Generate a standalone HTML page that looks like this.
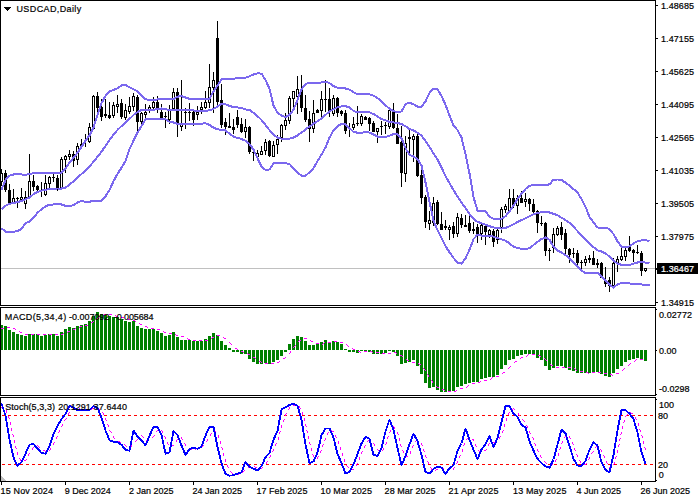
<!DOCTYPE html><html><head><meta charset="utf-8"><title>USDCAD Daily</title><style>
html,body{margin:0;padding:0;background:#fff;}
#c{position:relative;width:700px;height:500px;overflow:hidden;background:#fff;}
svg{position:absolute;left:0;top:0;}
text{font-family:"Liberation Sans",sans-serif;font-size:9px;fill:#000;stroke:#000;stroke-width:0.2px;}
</style></head><body><div id="c">
<svg width="700" height="500" viewBox="0 0 700 500">
<rect x="0" y="0" width="700" height="500" fill="#fff"/>
<g shape-rendering="crispEdges">
<rect x="1" y="268" width="654" height="1" fill="#c0c0c0"/>
</g>
<g shape-rendering="crispEdges" fill="#000">
<rect x="1" y="169" width="1" height="17"/>
<rect x="0" y="173" width="3" height="9"/>
<rect x="1" y="174" width="1" height="7" fill="#fff"/>
<rect x="5" y="170" width="1" height="22"/>
<rect x="4" y="173" width="3" height="17"/>
<rect x="9" y="184" width="1" height="19"/>
<rect x="8" y="190" width="3" height="13"/>
<rect x="13" y="189" width="1" height="14"/>
<rect x="12" y="198" width="3" height="5"/>
<rect x="13" y="199" width="1" height="3" fill="#fff"/>
<rect x="17" y="197" width="1" height="11"/>
<rect x="16" y="198" width="3" height="1"/>
<rect x="21" y="188" width="1" height="12"/>
<rect x="20" y="197" width="3" height="3"/>
<rect x="21" y="198" width="1" height="1" fill="#fff"/>
<rect x="25" y="191" width="1" height="18"/>
<rect x="24" y="197" width="3" height="7"/>
<rect x="25" y="198" width="1" height="5" fill="#fff"/>
<rect x="29" y="154" width="1" height="43"/>
<rect x="28" y="181" width="3" height="16"/>
<rect x="29" y="182" width="1" height="14" fill="#fff"/>
<rect x="33" y="175" width="1" height="16"/>
<rect x="32" y="181" width="3" height="6"/>
<rect x="37" y="185" width="1" height="6"/>
<rect x="36" y="186" width="3" height="4"/>
<rect x="41" y="182" width="1" height="15"/>
<rect x="45" y="175" width="1" height="21"/>
<rect x="44" y="183" width="3" height="12"/>
<rect x="45" y="184" width="1" height="10" fill="#fff"/>
<rect x="49" y="176" width="1" height="13"/>
<rect x="48" y="177" width="3" height="7"/>
<rect x="49" y="178" width="1" height="5" fill="#fff"/>
<rect x="53" y="174" width="1" height="8"/>
<rect x="52" y="177" width="3" height="1"/>
<rect x="57" y="175" width="1" height="16"/>
<rect x="56" y="178" width="3" height="10"/>
<rect x="61" y="157" width="1" height="31"/>
<rect x="60" y="159" width="3" height="29"/>
<rect x="61" y="160" width="1" height="27" fill="#fff"/>
<rect x="65" y="155" width="1" height="18"/>
<rect x="64" y="156" width="3" height="4"/>
<rect x="65" y="157" width="1" height="2" fill="#fff"/>
<rect x="69" y="150" width="1" height="10"/>
<rect x="68" y="154" width="3" height="3"/>
<rect x="69" y="155" width="1" height="1" fill="#fff"/>
<rect x="73" y="151" width="1" height="16"/>
<rect x="72" y="154" width="3" height="7"/>
<rect x="77" y="143" width="1" height="22"/>
<rect x="76" y="146" width="3" height="14"/>
<rect x="77" y="147" width="1" height="12" fill="#fff"/>
<rect x="81" y="139" width="1" height="10"/>
<rect x="80" y="144" width="3" height="3"/>
<rect x="81" y="145" width="1" height="1" fill="#fff"/>
<rect x="85" y="134" width="1" height="13"/>
<rect x="84" y="140" width="3" height="1"/>
<rect x="89" y="123" width="1" height="20"/>
<rect x="88" y="127" width="3" height="15"/>
<rect x="89" y="128" width="1" height="13" fill="#fff"/>
<rect x="93" y="95" width="1" height="35"/>
<rect x="92" y="96" width="3" height="33"/>
<rect x="93" y="97" width="1" height="31" fill="#fff"/>
<rect x="97" y="92" width="1" height="26"/>
<rect x="96" y="96" width="3" height="12"/>
<rect x="101" y="99" width="1" height="22"/>
<rect x="100" y="107" width="3" height="10"/>
<rect x="105" y="99" width="1" height="19"/>
<rect x="104" y="114" width="3" height="2"/>
<rect x="109" y="102" width="1" height="17"/>
<rect x="108" y="115" width="3" height="3"/>
<rect x="113" y="102" width="1" height="16"/>
<rect x="112" y="105" width="3" height="11"/>
<rect x="113" y="106" width="1" height="9" fill="#fff"/>
<rect x="117" y="95" width="1" height="18"/>
<rect x="116" y="104" width="3" height="3"/>
<rect x="117" y="105" width="1" height="1" fill="#fff"/>
<rect x="121" y="99" width="1" height="20"/>
<rect x="120" y="103" width="3" height="14"/>
<rect x="125" y="104" width="1" height="16"/>
<rect x="124" y="110" width="3" height="8"/>
<rect x="125" y="111" width="1" height="6" fill="#fff"/>
<rect x="129" y="97" width="1" height="17"/>
<rect x="128" y="106" width="3" height="6"/>
<rect x="129" y="107" width="1" height="4" fill="#fff"/>
<rect x="133" y="93" width="1" height="18"/>
<rect x="132" y="96" width="3" height="11"/>
<rect x="133" y="97" width="1" height="9" fill="#fff"/>
<rect x="137" y="95" width="1" height="36"/>
<rect x="136" y="97" width="3" height="25"/>
<rect x="141" y="112" width="1" height="16"/>
<rect x="140" y="113" width="3" height="9"/>
<rect x="141" y="114" width="1" height="7" fill="#fff"/>
<rect x="145" y="104" width="1" height="15"/>
<rect x="144" y="112" width="3" height="3"/>
<rect x="145" y="113" width="1" height="1" fill="#fff"/>
<rect x="149" y="105" width="1" height="8"/>
<rect x="148" y="107" width="3" height="3"/>
<rect x="149" y="108" width="1" height="1" fill="#fff"/>
<rect x="153" y="97" width="1" height="14"/>
<rect x="152" y="102" width="3" height="6"/>
<rect x="153" y="103" width="1" height="4" fill="#fff"/>
<rect x="157" y="96" width="1" height="17"/>
<rect x="156" y="102" width="3" height="7"/>
<rect x="161" y="104" width="1" height="14"/>
<rect x="160" y="112" width="3" height="6"/>
<rect x="165" y="112" width="1" height="16"/>
<rect x="164" y="116" width="3" height="1"/>
<rect x="169" y="105" width="1" height="19"/>
<rect x="168" y="109" width="3" height="11"/>
<rect x="169" y="110" width="1" height="9" fill="#fff"/>
<rect x="173" y="88" width="1" height="21"/>
<rect x="172" y="92" width="3" height="17"/>
<rect x="173" y="93" width="1" height="15" fill="#fff"/>
<rect x="177" y="88" width="1" height="49"/>
<rect x="176" y="92" width="3" height="33"/>
<rect x="181" y="80" width="1" height="51"/>
<rect x="180" y="124" width="3" height="3"/>
<rect x="181" y="125" width="1" height="1" fill="#fff"/>
<rect x="185" y="108" width="1" height="21"/>
<rect x="184" y="112" width="3" height="1"/>
<rect x="189" y="103" width="1" height="18"/>
<rect x="188" y="112" width="3" height="1"/>
<rect x="193" y="111" width="1" height="15"/>
<rect x="192" y="112" width="3" height="8"/>
<rect x="197" y="106" width="1" height="14"/>
<rect x="196" y="112" width="3" height="3"/>
<rect x="197" y="113" width="1" height="1" fill="#fff"/>
<rect x="201" y="102" width="1" height="12"/>
<rect x="200" y="107" width="3" height="3"/>
<rect x="201" y="108" width="1" height="1" fill="#fff"/>
<rect x="205" y="91" width="1" height="18"/>
<rect x="204" y="102" width="3" height="6"/>
<rect x="205" y="103" width="1" height="4" fill="#fff"/>
<rect x="209" y="64" width="1" height="44"/>
<rect x="208" y="87" width="3" height="16"/>
<rect x="209" y="88" width="1" height="14" fill="#fff"/>
<rect x="213" y="72" width="1" height="41"/>
<rect x="212" y="80" width="3" height="8"/>
<rect x="213" y="81" width="1" height="6" fill="#fff"/>
<rect x="217" y="21" width="1" height="85"/>
<rect x="216" y="38" width="3" height="64"/>
<rect x="221" y="84" width="1" height="44"/>
<rect x="220" y="100" width="3" height="25"/>
<rect x="225" y="118" width="1" height="17"/>
<rect x="224" y="122" width="3" height="5"/>
<rect x="229" y="113" width="1" height="15"/>
<rect x="228" y="126" width="3" height="2"/>
<rect x="233" y="119" width="1" height="15"/>
<rect x="232" y="127" width="3" height="3"/>
<rect x="237" y="110" width="1" height="18"/>
<rect x="236" y="117" width="3" height="8"/>
<rect x="241" y="118" width="1" height="15"/>
<rect x="240" y="124" width="3" height="8"/>
<rect x="245" y="119" width="1" height="19"/>
<rect x="244" y="127" width="3" height="5"/>
<rect x="245" y="128" width="1" height="3" fill="#fff"/>
<rect x="249" y="126" width="1" height="28"/>
<rect x="248" y="127" width="3" height="25"/>
<rect x="253" y="149" width="1" height="12"/>
<rect x="252" y="152" width="3" height="1"/>
<rect x="257" y="150" width="1" height="8"/>
<rect x="256" y="153" width="3" height="4"/>
<rect x="257" y="154" width="1" height="2" fill="#fff"/>
<rect x="261" y="146" width="1" height="9"/>
<rect x="260" y="151" width="3" height="4"/>
<rect x="261" y="152" width="1" height="2" fill="#fff"/>
<rect x="265" y="139" width="1" height="16"/>
<rect x="264" y="142" width="3" height="9"/>
<rect x="265" y="143" width="1" height="7" fill="#fff"/>
<rect x="269" y="140" width="1" height="17"/>
<rect x="268" y="141" width="3" height="15"/>
<rect x="273" y="141" width="1" height="16"/>
<rect x="272" y="145" width="3" height="12"/>
<rect x="273" y="146" width="1" height="10" fill="#fff"/>
<rect x="277" y="135" width="1" height="19"/>
<rect x="276" y="139" width="3" height="6"/>
<rect x="277" y="140" width="1" height="4" fill="#fff"/>
<rect x="281" y="124" width="1" height="18"/>
<rect x="280" y="125" width="3" height="13"/>
<rect x="281" y="126" width="1" height="11" fill="#fff"/>
<rect x="285" y="113" width="1" height="17"/>
<rect x="284" y="120" width="3" height="6"/>
<rect x="285" y="121" width="1" height="4" fill="#fff"/>
<rect x="289" y="96" width="1" height="28"/>
<rect x="288" y="98" width="3" height="23"/>
<rect x="289" y="99" width="1" height="21" fill="#fff"/>
<rect x="293" y="91" width="1" height="16"/>
<rect x="292" y="91" width="3" height="8"/>
<rect x="293" y="92" width="1" height="6" fill="#fff"/>
<rect x="297" y="76" width="1" height="38"/>
<rect x="296" y="89" width="3" height="8"/>
<rect x="297" y="90" width="1" height="6" fill="#fff"/>
<rect x="301" y="75" width="1" height="37"/>
<rect x="300" y="90" width="3" height="18"/>
<rect x="305" y="95" width="1" height="27"/>
<rect x="304" y="108" width="3" height="12"/>
<rect x="309" y="111" width="1" height="31"/>
<rect x="308" y="119" width="3" height="10"/>
<rect x="313" y="100" width="1" height="33"/>
<rect x="312" y="113" width="3" height="16"/>
<rect x="313" y="114" width="1" height="14" fill="#fff"/>
<rect x="317" y="109" width="1" height="4"/>
<rect x="316" y="110" width="3" height="3"/>
<rect x="321" y="91" width="1" height="26"/>
<rect x="320" y="99" width="3" height="12"/>
<rect x="321" y="100" width="1" height="10" fill="#fff"/>
<rect x="325" y="80" width="1" height="32"/>
<rect x="324" y="99" width="3" height="1"/>
<rect x="329" y="88" width="1" height="29"/>
<rect x="328" y="99" width="3" height="13"/>
<rect x="333" y="95" width="1" height="21"/>
<rect x="332" y="98" width="3" height="16"/>
<rect x="333" y="99" width="1" height="14" fill="#fff"/>
<rect x="337" y="97" width="1" height="20"/>
<rect x="336" y="98" width="3" height="15"/>
<rect x="341" y="110" width="1" height="6"/>
<rect x="340" y="111" width="3" height="3"/>
<rect x="345" y="110" width="1" height="24"/>
<rect x="344" y="113" width="3" height="18"/>
<rect x="349" y="123" width="1" height="14"/>
<rect x="348" y="128" width="3" height="1"/>
<rect x="353" y="117" width="1" height="13"/>
<rect x="352" y="124" width="3" height="4"/>
<rect x="353" y="125" width="1" height="2" fill="#fff"/>
<rect x="357" y="106" width="1" height="20"/>
<rect x="356" y="123" width="3" height="1"/>
<rect x="361" y="114" width="1" height="12"/>
<rect x="360" y="116" width="3" height="8"/>
<rect x="361" y="117" width="1" height="6" fill="#fff"/>
<rect x="365" y="116" width="1" height="4"/>
<rect x="364" y="117" width="3" height="3"/>
<rect x="369" y="117" width="1" height="14"/>
<rect x="368" y="118" width="3" height="6"/>
<rect x="373" y="121" width="1" height="11"/>
<rect x="372" y="123" width="3" height="9"/>
<rect x="377" y="128" width="1" height="15"/>
<rect x="376" y="128" width="3" height="4"/>
<rect x="377" y="129" width="1" height="2" fill="#fff"/>
<rect x="381" y="121" width="1" height="14"/>
<rect x="380" y="126" width="3" height="1"/>
<rect x="385" y="122" width="1" height="12"/>
<rect x="384" y="125" width="3" height="1"/>
<rect x="389" y="107" width="1" height="22"/>
<rect x="388" y="110" width="3" height="17"/>
<rect x="389" y="111" width="1" height="15" fill="#fff"/>
<rect x="393" y="103" width="1" height="26"/>
<rect x="392" y="112" width="3" height="16"/>
<rect x="397" y="114" width="1" height="30"/>
<rect x="396" y="128" width="3" height="16"/>
<rect x="401" y="126" width="1" height="61"/>
<rect x="400" y="142" width="3" height="31"/>
<rect x="405" y="136" width="1" height="46"/>
<rect x="404" y="143" width="3" height="31"/>
<rect x="405" y="144" width="1" height="29" fill="#fff"/>
<rect x="409" y="130" width="1" height="24"/>
<rect x="408" y="137" width="3" height="2"/>
<rect x="413" y="134" width="1" height="28"/>
<rect x="412" y="136" width="3" height="4"/>
<rect x="413" y="137" width="1" height="2" fill="#fff"/>
<rect x="417" y="134" width="1" height="43"/>
<rect x="416" y="136" width="3" height="40"/>
<rect x="421" y="170" width="1" height="34"/>
<rect x="420" y="175" width="3" height="23"/>
<rect x="425" y="195" width="1" height="33"/>
<rect x="424" y="197" width="3" height="25"/>
<rect x="429" y="211" width="1" height="19"/>
<rect x="428" y="220" width="3" height="4"/>
<rect x="429" y="221" width="1" height="2" fill="#fff"/>
<rect x="433" y="197" width="1" height="29"/>
<rect x="432" y="203" width="3" height="20"/>
<rect x="433" y="204" width="1" height="18" fill="#fff"/>
<rect x="437" y="200" width="1" height="25"/>
<rect x="436" y="202" width="3" height="22"/>
<rect x="441" y="212" width="1" height="18"/>
<rect x="440" y="224" width="3" height="6"/>
<rect x="445" y="220" width="1" height="10"/>
<rect x="444" y="226" width="3" height="2"/>
<rect x="449" y="225" width="1" height="15"/>
<rect x="448" y="227" width="3" height="3"/>
<rect x="449" y="228" width="1" height="1" fill="#fff"/>
<rect x="453" y="222" width="1" height="16"/>
<rect x="452" y="226" width="3" height="8"/>
<rect x="457" y="213" width="1" height="24"/>
<rect x="456" y="217" width="3" height="17"/>
<rect x="457" y="218" width="1" height="15" fill="#fff"/>
<rect x="461" y="214" width="1" height="14"/>
<rect x="460" y="218" width="3" height="7"/>
<rect x="465" y="215" width="1" height="12"/>
<rect x="464" y="225" width="3" height="2"/>
<rect x="469" y="216" width="1" height="17"/>
<rect x="468" y="223" width="3" height="8"/>
<rect x="473" y="222" width="1" height="12"/>
<rect x="472" y="229" width="3" height="2"/>
<rect x="477" y="224" width="1" height="19"/>
<rect x="476" y="227" width="3" height="7"/>
<rect x="481" y="222" width="1" height="18"/>
<rect x="480" y="225" width="3" height="9"/>
<rect x="481" y="226" width="1" height="7" fill="#fff"/>
<rect x="485" y="225" width="1" height="20"/>
<rect x="484" y="226" width="3" height="6"/>
<rect x="489" y="229" width="1" height="9"/>
<rect x="488" y="230" width="3" height="5"/>
<rect x="489" y="231" width="1" height="3" fill="#fff"/>
<rect x="493" y="229" width="1" height="18"/>
<rect x="492" y="231" width="3" height="11"/>
<rect x="497" y="227" width="1" height="17"/>
<rect x="496" y="230" width="3" height="10"/>
<rect x="497" y="231" width="1" height="8" fill="#fff"/>
<rect x="501" y="207" width="1" height="26"/>
<rect x="500" y="209" width="3" height="19"/>
<rect x="501" y="210" width="1" height="17" fill="#fff"/>
<rect x="505" y="204" width="1" height="9"/>
<rect x="504" y="206" width="3" height="4"/>
<rect x="505" y="207" width="1" height="2" fill="#fff"/>
<rect x="509" y="189" width="1" height="24"/>
<rect x="508" y="198" width="3" height="14"/>
<rect x="509" y="199" width="1" height="12" fill="#fff"/>
<rect x="513" y="189" width="1" height="19"/>
<rect x="512" y="198" width="3" height="8"/>
<rect x="517" y="195" width="1" height="19"/>
<rect x="516" y="198" width="3" height="8"/>
<rect x="517" y="199" width="1" height="6" fill="#fff"/>
<rect x="521" y="191" width="1" height="12"/>
<rect x="520" y="198" width="3" height="5"/>
<rect x="525" y="193" width="1" height="14"/>
<rect x="524" y="199" width="3" height="3"/>
<rect x="525" y="200" width="1" height="1" fill="#fff"/>
<rect x="529" y="198" width="1" height="13"/>
<rect x="528" y="199" width="3" height="5"/>
<rect x="533" y="199" width="1" height="14"/>
<rect x="532" y="204" width="3" height="8"/>
<rect x="537" y="210" width="1" height="23"/>
<rect x="536" y="211" width="3" height="12"/>
<rect x="541" y="216" width="1" height="10"/>
<rect x="540" y="223" width="3" height="1"/>
<rect x="545" y="222" width="1" height="34"/>
<rect x="544" y="223" width="3" height="28"/>
<rect x="549" y="248" width="1" height="13"/>
<rect x="548" y="250" width="3" height="1"/>
<rect x="553" y="228" width="1" height="25"/>
<rect x="552" y="234" width="3" height="14"/>
<rect x="553" y="235" width="1" height="12" fill="#fff"/>
<rect x="557" y="226" width="1" height="10"/>
<rect x="556" y="228" width="3" height="7"/>
<rect x="557" y="229" width="1" height="5" fill="#fff"/>
<rect x="561" y="222" width="1" height="18"/>
<rect x="560" y="227" width="3" height="8"/>
<rect x="565" y="229" width="1" height="25"/>
<rect x="564" y="233" width="3" height="16"/>
<rect x="569" y="248" width="1" height="15"/>
<rect x="568" y="249" width="3" height="6"/>
<rect x="573" y="248" width="1" height="10"/>
<rect x="572" y="253" width="3" height="1"/>
<rect x="577" y="250" width="1" height="16"/>
<rect x="576" y="253" width="3" height="10"/>
<rect x="581" y="260" width="1" height="9"/>
<rect x="580" y="262" width="3" height="1"/>
<rect x="585" y="256" width="1" height="10"/>
<rect x="584" y="259" width="3" height="4"/>
<rect x="585" y="260" width="1" height="2" fill="#fff"/>
<rect x="589" y="255" width="1" height="8"/>
<rect x="588" y="258" width="3" height="2"/>
<rect x="593" y="251" width="1" height="14"/>
<rect x="592" y="258" width="3" height="7"/>
<rect x="597" y="259" width="1" height="9"/>
<rect x="596" y="263" width="3" height="2"/>
<rect x="601" y="262" width="1" height="16"/>
<rect x="600" y="263" width="3" height="15"/>
<rect x="605" y="267" width="1" height="20"/>
<rect x="604" y="280" width="3" height="4"/>
<rect x="609" y="277" width="1" height="15"/>
<rect x="608" y="280" width="3" height="6"/>
<rect x="613" y="258" width="1" height="28"/>
<rect x="612" y="263" width="3" height="23"/>
<rect x="613" y="264" width="1" height="21" fill="#fff"/>
<rect x="617" y="256" width="1" height="16"/>
<rect x="616" y="259" width="3" height="4"/>
<rect x="617" y="260" width="1" height="2" fill="#fff"/>
<rect x="621" y="248" width="1" height="13"/>
<rect x="620" y="256" width="3" height="4"/>
<rect x="621" y="257" width="1" height="2" fill="#fff"/>
<rect x="625" y="248" width="1" height="13"/>
<rect x="624" y="250" width="3" height="7"/>
<rect x="625" y="251" width="1" height="5" fill="#fff"/>
<rect x="629" y="236" width="1" height="16"/>
<rect x="628" y="247" width="3" height="4"/>
<rect x="633" y="249" width="1" height="13"/>
<rect x="632" y="250" width="3" height="3"/>
<rect x="637" y="245" width="1" height="9"/>
<rect x="636" y="252" width="3" height="1"/>
<rect x="641" y="251" width="1" height="25"/>
<rect x="640" y="253" width="3" height="18"/>
<rect x="645" y="268" width="1" height="4"/>
<rect x="644" y="268" width="3" height="3"/>
<rect x="645" y="269" width="1" height="1" fill="#fff"/>
</g>
<polyline points="1.5,189.6 5.5,180.0 9.5,175.6 13.5,174.5 17.5,174.0 21.5,174.5 25.5,174.6 29.5,174.3 33.5,172.9 37.5,172.9 41.5,172.9 45.5,173.0 49.5,173.2 53.5,173.2 57.5,173.1 61.5,172.8 65.5,168.5 69.5,162.7 73.5,157.7 77.5,152.8 81.5,146.8 85.5,140.8 89.5,135.3 93.5,127.4 97.5,115.1 101.5,103.1 105.5,95.9 109.5,91.4 113.5,90.0 117.5,88.3 121.5,85.5 125.5,84.8 129.5,87.4 133.5,89.2 137.5,91.4 141.5,95.5 145.5,99.2 149.5,99.9 153.5,99.7 157.5,99.5 161.5,99.4 165.5,99.4 169.5,99.3 173.5,99.1 177.5,96.6 181.5,96.2 185.5,97.5 189.5,98.8 193.5,98.8 197.5,98.8 201.5,98.8 205.5,98.8 209.5,98.6 213.5,91.5 217.5,85.7 221.5,79.3 225.5,78.8 229.5,78.8 233.5,78.8 237.5,77.8 241.5,77.7 245.5,77.7 249.5,76.3 253.5,74.5 257.5,73.3 261.5,73.6 265.5,80.0 269.5,88.9 273.5,105.5 277.5,112.6 281.5,115.5 285.5,117.2 289.5,114.9 293.5,109.8 297.5,99.9 301.5,89.3 305.5,83.9 309.5,82.8 313.5,82.8 317.5,82.8 321.5,82.5 325.5,81.6 329.5,83.0 333.5,86.2 337.5,87.6 341.5,88.1 345.5,88.5 349.5,89.6 353.5,92.3 357.5,94.1 361.5,94.1 365.5,94.1 369.5,94.3 373.5,95.7 377.5,98.1 381.5,101.3 385.5,105.3 389.5,108.7 393.5,111.3 397.5,112.0 401.5,111.5 405.5,104.1 409.5,102.7 413.5,104.2 417.5,106.6 421.5,106.7 425.5,101.4 429.5,92.9 433.5,88.9 437.5,89.5 441.5,95.9 445.5,104.7 449.5,115.3 453.5,125.5 457.5,130.0 461.5,137.6 465.5,154.1 469.5,173.4 473.5,197.0 477.5,210.6 481.5,210.8 485.5,211.4 489.5,216.5 493.5,218.9 497.5,218.9 501.5,218.7 505.5,216.3 509.5,211.4 513.5,205.4 517.5,199.2 521.5,193.6 525.5,189.0 529.5,186.0 533.5,184.9 537.5,184.8 541.5,185.3 545.5,185.1 549.5,184.3 553.5,179.7 557.5,179.5 561.5,179.9 565.5,182.7 569.5,185.7 573.5,189.1 577.5,192.5 581.5,199.2 585.5,206.7 589.5,217.1 593.5,222.4 597.5,227.5 601.5,227.6 605.5,227.6 609.5,229.1 613.5,234.1 617.5,241.3 621.5,246.8 625.5,247.0 629.5,246.4 633.5,243.4 637.5,241.3 641.5,240.3 645.5,240.4 649.5,240.8" fill="none" stroke="#7b68ee" stroke-width="2" stroke-linejoin="round" shape-rendering="crispEdges" />
<polyline points="1.5,209.4 5.5,205.6 9.5,204.0 13.5,202.8 17.5,202.2 21.5,200.9 25.5,199.3 29.5,197.5 33.5,194.2 37.5,191.9 41.5,190.7 45.5,189.8 49.5,189.0 53.5,188.7 57.5,188.5 61.5,188.5 65.5,187.6 69.5,184.7 73.5,181.2 77.5,177.6 81.5,174.0 85.5,170.8 89.5,166.6 93.5,161.7 97.5,156.8 101.5,151.7 105.5,145.9 109.5,140.1 113.5,134.8 117.5,129.9 121.5,126.1 125.5,122.5 129.5,118.9 133.5,115.0 137.5,112.1 141.5,109.8 145.5,109.6 149.5,109.6 153.5,109.6 157.5,109.4 161.5,108.5 165.5,109.2 169.5,110.0 173.5,110.1 177.5,110.1 181.5,110.2 185.5,110.2 189.5,110.4 193.5,110.5 197.5,110.7 201.5,110.9 205.5,110.8 209.5,110.3 213.5,108.9 217.5,106.5 221.5,104.0 225.5,104.3 229.5,105.9 233.5,107.1 237.5,107.5 241.5,107.8 245.5,109.5 249.5,110.0 253.5,112.9 257.5,116.2 261.5,119.9 265.5,125.1 269.5,130.1 273.5,134.9 277.5,137.5 281.5,138.7 285.5,139.2 289.5,138.7 293.5,137.6 297.5,135.4 301.5,132.6 305.5,129.5 309.5,126.5 313.5,123.7 317.5,121.1 321.5,118.5 325.5,114.9 329.5,111.5 333.5,109.2 337.5,107.4 341.5,106.4 345.5,106.2 349.5,107.4 353.5,110.9 357.5,112.4 361.5,112.4 365.5,112.4 369.5,112.4 373.5,114.0 377.5,116.5 381.5,119.0 385.5,120.3 389.5,122.0 393.5,122.5 397.5,123.0 401.5,124.0 405.5,126.2 409.5,129.0 413.5,130.5 417.5,132.7 421.5,135.7 425.5,140.9 429.5,147.0 433.5,153.4 437.5,159.4 441.5,167.5 445.5,176.1 449.5,183.2 453.5,190.0 457.5,196.6 461.5,202.5 465.5,207.9 469.5,214.0 473.5,218.7 477.5,221.8 481.5,223.3 485.5,224.8 489.5,226.2 493.5,227.4 497.5,228.1 501.5,228.6 505.5,227.9 509.5,226.2 513.5,224.2 517.5,222.1 521.5,220.1 525.5,218.2 529.5,216.2 533.5,214.2 537.5,213.0 541.5,212.3 545.5,212.3 549.5,212.5 553.5,213.8 557.5,215.3 561.5,217.7 565.5,220.1 569.5,222.8 573.5,226.8 577.5,231.1 581.5,235.5 585.5,239.9 589.5,243.8 593.5,247.2 597.5,250.3 601.5,251.5 605.5,253.4 609.5,256.6 613.5,260.6 617.5,263.5 621.5,264.9 625.5,264.9 629.5,264.9 633.5,263.6 637.5,262.5 641.5,262.1 645.5,262.6 649.5,263.0" fill="none" stroke="#7b68ee" stroke-width="2" stroke-linejoin="round" shape-rendering="crispEdges" />
<polyline points="1.5,228.3 5.5,231.6 9.5,232.1 13.5,231.8 17.5,231.0 21.5,229.1 25.5,223.1 29.5,221.7 33.5,217.9 37.5,212.8 41.5,209.3 45.5,206.3 49.5,204.7 53.5,204.5 57.5,203.8 61.5,204.5 65.5,205.8 69.5,205.8 73.5,205.3 77.5,202.4 81.5,200.9 85.5,201.9 89.5,201.7 93.5,200.9 97.5,200.8 101.5,200.7 105.5,196.3 109.5,190.1 113.5,181.2 117.5,173.8 121.5,167.8 125.5,161.0 129.5,149.3 133.5,140.6 137.5,132.7 141.5,126.0 145.5,119.3 149.5,118.9 153.5,118.9 157.5,118.8 161.5,118.8 165.5,119.3 169.5,121.9 173.5,122.5 177.5,123.9 181.5,124.0 185.5,123.9 189.5,123.9 193.5,123.8 197.5,123.7 201.5,123.6 205.5,123.4 209.5,124.9 213.5,127.7 217.5,129.2 221.5,129.9 225.5,130.4 229.5,133.8 233.5,136.7 237.5,137.9 241.5,139.0 245.5,140.8 249.5,143.8 253.5,149.7 257.5,158.2 261.5,166.8 265.5,169.8 269.5,169.5 273.5,163.3 277.5,163.3 281.5,163.3 285.5,163.3 289.5,163.9 293.5,168.4 297.5,172.4 301.5,175.7 305.5,175.7 309.5,172.4 313.5,168.2 317.5,161.2 321.5,154.6 325.5,147.4 329.5,137.7 333.5,130.4 337.5,126.1 341.5,124.0 345.5,124.5 349.5,128.2 353.5,131.9 357.5,132.7 361.5,132.7 365.5,132.1 369.5,132.6 373.5,134.4 377.5,136.5 381.5,137.2 385.5,137.2 389.5,135.6 393.5,134.1 397.5,134.2 401.5,138.1 405.5,148.2 409.5,154.7 413.5,156.6 417.5,159.2 421.5,165.5 425.5,182.4 429.5,201.8 433.5,220.5 437.5,230.2 441.5,238.1 445.5,246.2 449.5,252.3 453.5,257.9 457.5,262.5 461.5,263.7 465.5,258.5 469.5,249.7 473.5,239.1 477.5,234.8 481.5,235.6 485.5,236.1 489.5,236.1 493.5,236.6 497.5,237.9 501.5,239.3 505.5,240.8 509.5,243.3 513.5,246.8 517.5,247.9 521.5,248.8 525.5,248.8 529.5,248.4 533.5,245.0 537.5,241.8 541.5,239.0 545.5,237.5 549.5,239.7 553.5,246.8 557.5,250.7 561.5,252.5 565.5,255.0 569.5,258.2 573.5,262.6 577.5,266.8 581.5,270.7 585.5,273.0 589.5,273.0 593.5,273.0 597.5,273.0 601.5,276.0 605.5,280.9 609.5,284.7 613.5,287.5 617.5,284.4 621.5,283.0 625.5,283.0 629.5,283.5 633.5,283.8 637.5,283.8 641.5,284.5 645.5,285.0 649.5,285.0" fill="none" stroke="#7b68ee" stroke-width="2" stroke-linejoin="round" shape-rendering="crispEdges" />
<g shape-rendering="crispEdges" fill="#008000">
<rect x="0" y="325" width="3" height="25"/>
<rect x="4" y="326" width="3" height="24"/>
<rect x="8" y="330" width="3" height="20"/>
<rect x="12" y="332" width="3" height="18"/>
<rect x="16" y="334" width="3" height="16"/>
<rect x="20" y="335" width="3" height="15"/>
<rect x="24" y="336" width="3" height="14"/>
<rect x="28" y="334" width="3" height="16"/>
<rect x="32" y="334" width="3" height="16"/>
<rect x="36" y="334" width="3" height="16"/>
<rect x="40" y="336" width="3" height="14"/>
<rect x="44" y="335" width="3" height="15"/>
<rect x="48" y="334" width="3" height="16"/>
<rect x="52" y="334" width="3" height="16"/>
<rect x="56" y="336" width="3" height="14"/>
<rect x="60" y="332" width="3" height="18"/>
<rect x="64" y="329" width="3" height="21"/>
<rect x="68" y="327" width="3" height="23"/>
<rect x="72" y="328" width="3" height="22"/>
<rect x="76" y="326" width="3" height="24"/>
<rect x="80" y="325" width="3" height="25"/>
<rect x="84" y="324" width="3" height="26"/>
<rect x="88" y="321" width="3" height="29"/>
<rect x="92" y="316" width="3" height="34"/>
<rect x="96" y="312" width="3" height="38"/>
<rect x="100" y="314" width="3" height="36"/>
<rect x="104" y="315" width="3" height="35"/>
<rect x="108" y="316" width="3" height="34"/>
<rect x="112" y="317" width="3" height="33"/>
<rect x="116" y="317" width="3" height="33"/>
<rect x="120" y="319" width="3" height="31"/>
<rect x="124" y="321" width="3" height="29"/>
<rect x="128" y="322" width="3" height="28"/>
<rect x="132" y="321" width="3" height="29"/>
<rect x="136" y="326" width="3" height="24"/>
<rect x="140" y="328" width="3" height="22"/>
<rect x="144" y="329" width="3" height="21"/>
<rect x="148" y="329" width="3" height="21"/>
<rect x="152" y="329" width="3" height="21"/>
<rect x="156" y="331" width="3" height="19"/>
<rect x="160" y="333" width="3" height="17"/>
<rect x="164" y="336" width="3" height="14"/>
<rect x="168" y="335" width="3" height="15"/>
<rect x="172" y="332" width="3" height="18"/>
<rect x="176" y="337" width="3" height="13"/>
<rect x="180" y="340" width="3" height="10"/>
<rect x="184" y="340" width="3" height="10"/>
<rect x="188" y="340" width="3" height="10"/>
<rect x="192" y="341" width="3" height="9"/>
<rect x="196" y="341" width="3" height="9"/>
<rect x="200" y="341" width="3" height="9"/>
<rect x="204" y="339" width="3" height="11"/>
<rect x="208" y="336" width="3" height="14"/>
<rect x="212" y="333" width="3" height="17"/>
<rect x="216" y="335" width="3" height="15"/>
<rect x="220" y="341" width="3" height="9"/>
<rect x="224" y="345" width="3" height="5"/>
<rect x="228" y="348" width="3" height="2"/>
<rect x="232" y="350" width="3" height="2"/>
<rect x="236" y="350" width="3" height="2"/>
<rect x="240" y="350" width="3" height="4"/>
<rect x="244" y="350" width="3" height="4"/>
<rect x="248" y="350" width="3" height="9"/>
<rect x="252" y="350" width="3" height="12"/>
<rect x="256" y="350" width="3" height="14"/>
<rect x="260" y="350" width="3" height="14"/>
<rect x="264" y="350" width="3" height="13"/>
<rect x="268" y="350" width="3" height="14"/>
<rect x="272" y="350" width="3" height="12"/>
<rect x="276" y="350" width="3" height="10"/>
<rect x="280" y="350" width="3" height="6"/>
<rect x="284" y="350" width="3" height="2"/>
<rect x="288" y="344" width="3" height="6"/>
<rect x="292" y="339" width="3" height="11"/>
<rect x="296" y="336" width="3" height="14"/>
<rect x="300" y="337" width="3" height="13"/>
<rect x="304" y="341" width="3" height="9"/>
<rect x="308" y="345" width="3" height="5"/>
<rect x="312" y="345" width="3" height="5"/>
<rect x="316" y="344" width="3" height="6"/>
<rect x="320" y="342" width="3" height="8"/>
<rect x="324" y="340" width="3" height="10"/>
<rect x="328" y="342" width="3" height="8"/>
<rect x="332" y="341" width="3" height="9"/>
<rect x="336" y="342" width="3" height="8"/>
<rect x="340" y="344" width="3" height="6"/>
<rect x="344" y="349" width="3" height="1"/>
<rect x="348" y="350" width="3" height="2"/>
<rect x="352" y="350" width="3" height="2"/>
<rect x="356" y="350" width="3" height="3"/>
<rect x="360" y="350" width="3" height="1"/>
<rect x="364" y="350" width="3" height="1"/>
<rect x="368" y="350" width="3" height="2"/>
<rect x="372" y="350" width="3" height="4"/>
<rect x="376" y="350" width="3" height="4"/>
<rect x="380" y="350" width="3" height="4"/>
<rect x="384" y="350" width="3" height="3"/>
<rect x="388" y="350" width="3" height="1"/>
<rect x="392" y="350" width="3" height="2"/>
<rect x="396" y="350" width="3" height="6"/>
<rect x="400" y="350" width="3" height="14"/>
<rect x="404" y="350" width="3" height="13"/>
<rect x="408" y="350" width="3" height="12"/>
<rect x="412" y="350" width="3" height="10"/>
<rect x="416" y="350" width="3" height="16"/>
<rect x="420" y="350" width="3" height="24"/>
<rect x="424" y="350" width="3" height="33"/>
<rect x="428" y="350" width="3" height="38"/>
<rect x="432" y="350" width="3" height="37"/>
<rect x="436" y="350" width="3" height="40"/>
<rect x="440" y="350" width="3" height="42"/>
<rect x="444" y="350" width="3" height="42"/>
<rect x="448" y="350" width="3" height="41"/>
<rect x="452" y="350" width="3" height="41"/>
<rect x="456" y="350" width="3" height="37"/>
<rect x="460" y="350" width="3" height="36"/>
<rect x="464" y="350" width="3" height="34"/>
<rect x="468" y="350" width="3" height="33"/>
<rect x="472" y="350" width="3" height="32"/>
<rect x="476" y="350" width="3" height="32"/>
<rect x="480" y="350" width="3" height="29"/>
<rect x="484" y="350" width="3" height="28"/>
<rect x="488" y="350" width="3" height="27"/>
<rect x="492" y="350" width="3" height="27"/>
<rect x="496" y="350" width="3" height="25"/>
<rect x="500" y="350" width="3" height="19"/>
<rect x="504" y="350" width="3" height="15"/>
<rect x="508" y="350" width="3" height="10"/>
<rect x="512" y="350" width="3" height="9"/>
<rect x="516" y="350" width="3" height="6"/>
<rect x="520" y="350" width="3" height="5"/>
<rect x="524" y="350" width="3" height="4"/>
<rect x="528" y="350" width="3" height="4"/>
<rect x="532" y="350" width="3" height="5"/>
<rect x="536" y="350" width="3" height="8"/>
<rect x="540" y="350" width="3" height="10"/>
<rect x="544" y="350" width="3" height="16"/>
<rect x="548" y="350" width="3" height="20"/>
<rect x="552" y="350" width="3" height="18"/>
<rect x="556" y="350" width="3" height="16"/>
<rect x="560" y="350" width="3" height="16"/>
<rect x="564" y="350" width="3" height="18"/>
<rect x="568" y="350" width="3" height="20"/>
<rect x="572" y="350" width="3" height="21"/>
<rect x="576" y="350" width="3" height="23"/>
<rect x="580" y="350" width="3" height="23"/>
<rect x="584" y="350" width="3" height="23"/>
<rect x="588" y="350" width="3" height="23"/>
<rect x="592" y="350" width="3" height="22"/>
<rect x="596" y="350" width="3" height="22"/>
<rect x="600" y="350" width="3" height="24"/>
<rect x="604" y="350" width="3" height="26"/>
<rect x="608" y="350" width="3" height="27"/>
<rect x="612" y="350" width="3" height="23"/>
<rect x="616" y="350" width="3" height="19"/>
<rect x="620" y="350" width="3" height="16"/>
<rect x="624" y="350" width="3" height="12"/>
<rect x="628" y="350" width="3" height="10"/>
<rect x="632" y="350" width="3" height="9"/>
<rect x="636" y="350" width="3" height="8"/>
<rect x="640" y="350" width="3" height="10"/>
<rect x="644" y="350" width="3" height="11"/>
</g>
<g shape-rendering="crispEdges" fill="#ff00ff"><rect x="104" y="314" width="2" height="1"/><rect x="109" y="314" width="3" height="1"/><rect x="103" y="315" width="1" height="1"/><rect x="115" y="315" width="1" height="1"/><rect x="99" y="316" width="1" height="1"/><rect x="116" y="316" width="2" height="1"/><rect x="98" y="317" width="1" height="1"/><rect x="121" y="317" width="3" height="1"/><rect x="97" y="318" width="1" height="1"/><rect x="127" y="318" width="1" height="1"/><rect x="128" y="319" width="2" height="1"/><rect x="133" y="320" width="2" height="1"/><rect x="93" y="321" width="1" height="1"/><rect x="135" y="321" width="1" height="1"/><rect x="91" y="322" width="2" height="1"/><rect x="139" y="323" width="1" height="1"/><rect x="140" y="324" width="2" height="1"/><rect x="85" y="325" width="3" height="1"/><rect x="80" y="326" width="2" height="1"/><rect x="145" y="326" width="2" height="1"/><rect x="7" y="327" width="3" height="1"/><rect x="79" y="327" width="1" height="1"/><rect x="147" y="327" width="1" height="1"/><rect x="1" y="328" width="3" height="1"/><rect x="13" y="328" width="2" height="1"/><rect x="75" y="328" width="1" height="1"/><rect x="151" y="328" width="3" height="1"/><rect x="15" y="329" width="1" height="1"/><rect x="73" y="329" width="2" height="1"/><rect x="157" y="329" width="3" height="1"/><rect x="19" y="331" width="1" height="1"/><rect x="68" y="331" width="2" height="1"/><rect x="163" y="331" width="1" height="1"/><rect x="20" y="332" width="2" height="1"/><rect x="67" y="332" width="1" height="1"/><rect x="164" y="332" width="2" height="1"/><rect x="63" y="333" width="1" height="1"/><rect x="169" y="333" width="3" height="1"/><rect x="25" y="334" width="3" height="1"/><rect x="31" y="334" width="3" height="1"/><rect x="37" y="334" width="3" height="1"/><rect x="43" y="334" width="3" height="1"/><rect x="49" y="334" width="3" height="1"/><rect x="55" y="334" width="3" height="1"/><rect x="61" y="334" width="2" height="1"/><rect x="175" y="334" width="1" height="1"/><rect x="176" y="335" width="2" height="1"/><rect x="217" y="335" width="3" height="1"/><rect x="181" y="336" width="3" height="1"/><rect x="212" y="337" width="2" height="1"/><rect x="223" y="337" width="1" height="1"/><rect x="187" y="338" width="1" height="1"/><rect x="211" y="338" width="1" height="1"/><rect x="224" y="338" width="2" height="1"/><rect x="304" y="338" width="3" height="1"/><rect x="188" y="339" width="2" height="1"/><rect x="193" y="340" width="3" height="1"/><rect x="199" y="340" width="3" height="1"/><rect x="205" y="340" width="3" height="1"/><rect x="299" y="340" width="2" height="1"/><rect x="310" y="340" width="1" height="1"/><rect x="298" y="341" width="1" height="1"/><rect x="311" y="341" width="2" height="1"/><rect x="334" y="341" width="3" height="1"/><rect x="229" y="342" width="1" height="1"/><rect x="324" y="342" width="1" height="1"/><rect x="328" y="342" width="3" height="1"/><rect x="340" y="342" width="3" height="1"/><rect x="230" y="343" width="1" height="1"/><rect x="316" y="343" width="3" height="1"/><rect x="323" y="343" width="1" height="1"/><rect x="231" y="344" width="1" height="1"/><rect x="322" y="344" width="1" height="1"/><rect x="346" y="344" width="1" height="1"/><rect x="295" y="345" width="1" height="1"/><rect x="347" y="345" width="1" height="1"/><rect x="294" y="346" width="1" height="1"/><rect x="348" y="346" width="1" height="1"/><rect x="293" y="347" width="1" height="1"/><rect x="235" y="348" width="2" height="1"/><rect x="352" y="348" width="1" height="1"/><rect x="237" y="349" width="1" height="1"/><rect x="353" y="349" width="2" height="1"/><rect x="241" y="351" width="2" height="1"/><rect x="290" y="351" width="1" height="1"/><rect x="358" y="351" width="2" height="1"/><rect x="364" y="351" width="3" height="1"/><rect x="370" y="351" width="2" height="1"/><rect x="243" y="352" width="1" height="1"/><rect x="290" y="352" width="1" height="1"/><rect x="360" y="352" width="1" height="1"/><rect x="372" y="352" width="1" height="1"/><rect x="376" y="352" width="3" height="1"/><rect x="394" y="352" width="2" height="1"/><rect x="247" y="353" width="1" height="1"/><rect x="289" y="353" width="1" height="1"/><rect x="382" y="353" width="3" height="1"/><rect x="388" y="353" width="3" height="1"/><rect x="396" y="353" width="1" height="1"/><rect x="248" y="354" width="2" height="1"/><rect x="528" y="354" width="1" height="1"/><rect x="532" y="354" width="3" height="1"/><rect x="400" y="355" width="2" height="1"/><rect x="527" y="355" width="1" height="1"/><rect x="538" y="355" width="2" height="1"/><rect x="402" y="356" width="1" height="1"/><rect x="526" y="356" width="1" height="1"/><rect x="540" y="356" width="1" height="1"/><rect x="253" y="357" width="2" height="1"/><rect x="285" y="357" width="1" height="1"/><rect x="521" y="357" width="2" height="1"/><rect x="255" y="358" width="1" height="1"/><rect x="283" y="358" width="2" height="1"/><rect x="520" y="358" width="1" height="1"/><rect x="544" y="358" width="1" height="1"/><rect x="406" y="359" width="1" height="1"/><rect x="545" y="359" width="1" height="1"/><rect x="636" y="359" width="1" height="1"/><rect x="640" y="359" width="3" height="1"/><rect x="407" y="360" width="2" height="1"/><rect x="546" y="360" width="1" height="1"/><rect x="635" y="360" width="1" height="1"/><rect x="259" y="361" width="2" height="1"/><rect x="279" y="361" width="1" height="1"/><rect x="515" y="361" width="2" height="1"/><rect x="634" y="361" width="1" height="1"/><rect x="261" y="362" width="1" height="1"/><rect x="277" y="362" width="2" height="1"/><rect x="412" y="362" width="3" height="1"/><rect x="514" y="362" width="1" height="1"/><rect x="265" y="363" width="3" height="1"/><rect x="271" y="363" width="3" height="1"/><rect x="418" y="363" width="1" height="1"/><rect x="630" y="363" width="1" height="1"/><rect x="419" y="364" width="2" height="1"/><rect x="550" y="364" width="1" height="1"/><rect x="629" y="364" width="1" height="1"/><rect x="551" y="365" width="2" height="1"/><rect x="628" y="365" width="1" height="1"/><rect x="510" y="366" width="1" height="1"/><rect x="509" y="367" width="1" height="1"/><rect x="556" y="367" width="3" height="1"/><rect x="562" y="367" width="3" height="1"/><rect x="568" y="367" width="3" height="1"/><rect x="423" y="368" width="1" height="1"/><rect x="508" y="368" width="1" height="1"/><rect x="574" y="368" width="1" height="1"/><rect x="624" y="368" width="1" height="1"/><rect x="424" y="369" width="1" height="1"/><rect x="575" y="369" width="1" height="1"/><rect x="623" y="369" width="1" height="1"/><rect x="425" y="370" width="1" height="1"/><rect x="576" y="370" width="1" height="1"/><rect x="622" y="370" width="1" height="1"/><rect x="580" y="371" width="3" height="1"/><rect x="503" y="372" width="2" height="1"/><rect x="586" y="372" width="2" height="1"/><rect x="592" y="372" width="3" height="1"/><rect x="598" y="372" width="3" height="1"/><rect x="502" y="373" width="1" height="1"/><rect x="588" y="373" width="1" height="1"/><rect x="604" y="373" width="3" height="1"/><rect x="616" y="373" width="3" height="1"/><rect x="427" y="374" width="1" height="1"/><rect x="610" y="374" width="2" height="1"/><rect x="428" y="375" width="1" height="1"/><rect x="612" y="375" width="1" height="1"/><rect x="428" y="376" width="1" height="1"/><rect x="496" y="376" width="3" height="1"/><rect x="492" y="377" width="1" height="1"/><rect x="491" y="378" width="1" height="1"/><rect x="490" y="379" width="1" height="1"/><rect x="431" y="380" width="1" height="1"/><rect x="484" y="380" width="3" height="1"/><rect x="432" y="381" width="1" height="1"/><rect x="480" y="381" width="1" height="1"/><rect x="432" y="382" width="1" height="1"/><rect x="478" y="382" width="2" height="1"/><rect x="472" y="383" width="3" height="1"/><rect x="468" y="385" width="1" height="1"/><rect x="436" y="386" width="1" height="1"/><rect x="467" y="386" width="1" height="1"/><rect x="437" y="387" width="2" height="1"/><rect x="466" y="387" width="1" height="1"/><rect x="460" y="388" width="3" height="1"/><rect x="442" y="389" width="2" height="1"/><rect x="444" y="390" width="1" height="1"/><rect x="456" y="390" width="1" height="1"/><rect x="448" y="391" width="3" height="1"/><rect x="454" y="391" width="2" height="1"/></g>
<g shape-rendering="crispEdges" fill="#f00">
<rect x="2" y="415" width="3" height="1"/>
<rect x="8" y="415" width="3" height="1"/>
<rect x="14" y="415" width="3" height="1"/>
<rect x="20" y="415" width="3" height="1"/>
<rect x="26" y="415" width="3" height="1"/>
<rect x="32" y="415" width="3" height="1"/>
<rect x="38" y="415" width="3" height="1"/>
<rect x="44" y="415" width="3" height="1"/>
<rect x="50" y="415" width="3" height="1"/>
<rect x="56" y="415" width="3" height="1"/>
<rect x="62" y="415" width="3" height="1"/>
<rect x="68" y="415" width="3" height="1"/>
<rect x="74" y="415" width="3" height="1"/>
<rect x="80" y="415" width="3" height="1"/>
<rect x="86" y="415" width="3" height="1"/>
<rect x="92" y="415" width="3" height="1"/>
<rect x="98" y="415" width="3" height="1"/>
<rect x="104" y="415" width="3" height="1"/>
<rect x="110" y="415" width="3" height="1"/>
<rect x="116" y="415" width="3" height="1"/>
<rect x="122" y="415" width="3" height="1"/>
<rect x="128" y="415" width="3" height="1"/>
<rect x="134" y="415" width="3" height="1"/>
<rect x="140" y="415" width="3" height="1"/>
<rect x="146" y="415" width="3" height="1"/>
<rect x="152" y="415" width="3" height="1"/>
<rect x="158" y="415" width="3" height="1"/>
<rect x="164" y="415" width="3" height="1"/>
<rect x="170" y="415" width="3" height="1"/>
<rect x="176" y="415" width="3" height="1"/>
<rect x="182" y="415" width="3" height="1"/>
<rect x="188" y="415" width="3" height="1"/>
<rect x="194" y="415" width="3" height="1"/>
<rect x="200" y="415" width="3" height="1"/>
<rect x="206" y="415" width="3" height="1"/>
<rect x="212" y="415" width="3" height="1"/>
<rect x="218" y="415" width="3" height="1"/>
<rect x="224" y="415" width="3" height="1"/>
<rect x="230" y="415" width="3" height="1"/>
<rect x="236" y="415" width="3" height="1"/>
<rect x="242" y="415" width="3" height="1"/>
<rect x="248" y="415" width="3" height="1"/>
<rect x="254" y="415" width="3" height="1"/>
<rect x="260" y="415" width="3" height="1"/>
<rect x="266" y="415" width="3" height="1"/>
<rect x="272" y="415" width="3" height="1"/>
<rect x="278" y="415" width="3" height="1"/>
<rect x="284" y="415" width="3" height="1"/>
<rect x="290" y="415" width="3" height="1"/>
<rect x="296" y="415" width="3" height="1"/>
<rect x="302" y="415" width="3" height="1"/>
<rect x="308" y="415" width="3" height="1"/>
<rect x="314" y="415" width="3" height="1"/>
<rect x="320" y="415" width="3" height="1"/>
<rect x="326" y="415" width="3" height="1"/>
<rect x="332" y="415" width="3" height="1"/>
<rect x="338" y="415" width="3" height="1"/>
<rect x="344" y="415" width="3" height="1"/>
<rect x="350" y="415" width="3" height="1"/>
<rect x="356" y="415" width="3" height="1"/>
<rect x="362" y="415" width="3" height="1"/>
<rect x="368" y="415" width="3" height="1"/>
<rect x="374" y="415" width="3" height="1"/>
<rect x="380" y="415" width="3" height="1"/>
<rect x="386" y="415" width="3" height="1"/>
<rect x="392" y="415" width="3" height="1"/>
<rect x="398" y="415" width="3" height="1"/>
<rect x="404" y="415" width="3" height="1"/>
<rect x="410" y="415" width="3" height="1"/>
<rect x="416" y="415" width="3" height="1"/>
<rect x="422" y="415" width="3" height="1"/>
<rect x="428" y="415" width="3" height="1"/>
<rect x="434" y="415" width="3" height="1"/>
<rect x="440" y="415" width="3" height="1"/>
<rect x="446" y="415" width="3" height="1"/>
<rect x="452" y="415" width="3" height="1"/>
<rect x="458" y="415" width="3" height="1"/>
<rect x="464" y="415" width="3" height="1"/>
<rect x="470" y="415" width="3" height="1"/>
<rect x="476" y="415" width="3" height="1"/>
<rect x="482" y="415" width="3" height="1"/>
<rect x="488" y="415" width="3" height="1"/>
<rect x="494" y="415" width="3" height="1"/>
<rect x="500" y="415" width="3" height="1"/>
<rect x="506" y="415" width="3" height="1"/>
<rect x="512" y="415" width="3" height="1"/>
<rect x="518" y="415" width="3" height="1"/>
<rect x="524" y="415" width="3" height="1"/>
<rect x="530" y="415" width="3" height="1"/>
<rect x="536" y="415" width="3" height="1"/>
<rect x="542" y="415" width="3" height="1"/>
<rect x="548" y="415" width="3" height="1"/>
<rect x="554" y="415" width="3" height="1"/>
<rect x="560" y="415" width="3" height="1"/>
<rect x="566" y="415" width="3" height="1"/>
<rect x="572" y="415" width="3" height="1"/>
<rect x="578" y="415" width="3" height="1"/>
<rect x="584" y="415" width="3" height="1"/>
<rect x="590" y="415" width="3" height="1"/>
<rect x="596" y="415" width="3" height="1"/>
<rect x="602" y="415" width="3" height="1"/>
<rect x="608" y="415" width="3" height="1"/>
<rect x="614" y="415" width="3" height="1"/>
<rect x="620" y="415" width="3" height="1"/>
<rect x="626" y="415" width="3" height="1"/>
<rect x="632" y="415" width="3" height="1"/>
<rect x="638" y="415" width="3" height="1"/>
<rect x="644" y="415" width="3" height="1"/>
<rect x="650" y="415" width="3" height="1"/>
<rect x="2" y="464" width="3" height="1"/>
<rect x="8" y="464" width="3" height="1"/>
<rect x="14" y="464" width="3" height="1"/>
<rect x="20" y="464" width="3" height="1"/>
<rect x="26" y="464" width="3" height="1"/>
<rect x="32" y="464" width="3" height="1"/>
<rect x="38" y="464" width="3" height="1"/>
<rect x="44" y="464" width="3" height="1"/>
<rect x="50" y="464" width="3" height="1"/>
<rect x="56" y="464" width="3" height="1"/>
<rect x="62" y="464" width="3" height="1"/>
<rect x="68" y="464" width="3" height="1"/>
<rect x="74" y="464" width="3" height="1"/>
<rect x="80" y="464" width="3" height="1"/>
<rect x="86" y="464" width="3" height="1"/>
<rect x="92" y="464" width="3" height="1"/>
<rect x="98" y="464" width="3" height="1"/>
<rect x="104" y="464" width="3" height="1"/>
<rect x="110" y="464" width="3" height="1"/>
<rect x="116" y="464" width="3" height="1"/>
<rect x="122" y="464" width="3" height="1"/>
<rect x="128" y="464" width="3" height="1"/>
<rect x="134" y="464" width="3" height="1"/>
<rect x="140" y="464" width="3" height="1"/>
<rect x="146" y="464" width="3" height="1"/>
<rect x="152" y="464" width="3" height="1"/>
<rect x="158" y="464" width="3" height="1"/>
<rect x="164" y="464" width="3" height="1"/>
<rect x="170" y="464" width="3" height="1"/>
<rect x="176" y="464" width="3" height="1"/>
<rect x="182" y="464" width="3" height="1"/>
<rect x="188" y="464" width="3" height="1"/>
<rect x="194" y="464" width="3" height="1"/>
<rect x="200" y="464" width="3" height="1"/>
<rect x="206" y="464" width="3" height="1"/>
<rect x="212" y="464" width="3" height="1"/>
<rect x="218" y="464" width="3" height="1"/>
<rect x="224" y="464" width="3" height="1"/>
<rect x="230" y="464" width="3" height="1"/>
<rect x="236" y="464" width="3" height="1"/>
<rect x="242" y="464" width="3" height="1"/>
<rect x="248" y="464" width="3" height="1"/>
<rect x="254" y="464" width="3" height="1"/>
<rect x="260" y="464" width="3" height="1"/>
<rect x="266" y="464" width="3" height="1"/>
<rect x="272" y="464" width="3" height="1"/>
<rect x="278" y="464" width="3" height="1"/>
<rect x="284" y="464" width="3" height="1"/>
<rect x="290" y="464" width="3" height="1"/>
<rect x="296" y="464" width="3" height="1"/>
<rect x="302" y="464" width="3" height="1"/>
<rect x="308" y="464" width="3" height="1"/>
<rect x="314" y="464" width="3" height="1"/>
<rect x="320" y="464" width="3" height="1"/>
<rect x="326" y="464" width="3" height="1"/>
<rect x="332" y="464" width="3" height="1"/>
<rect x="338" y="464" width="3" height="1"/>
<rect x="344" y="464" width="3" height="1"/>
<rect x="350" y="464" width="3" height="1"/>
<rect x="356" y="464" width="3" height="1"/>
<rect x="362" y="464" width="3" height="1"/>
<rect x="368" y="464" width="3" height="1"/>
<rect x="374" y="464" width="3" height="1"/>
<rect x="380" y="464" width="3" height="1"/>
<rect x="386" y="464" width="3" height="1"/>
<rect x="392" y="464" width="3" height="1"/>
<rect x="398" y="464" width="3" height="1"/>
<rect x="404" y="464" width="3" height="1"/>
<rect x="410" y="464" width="3" height="1"/>
<rect x="416" y="464" width="3" height="1"/>
<rect x="422" y="464" width="3" height="1"/>
<rect x="428" y="464" width="3" height="1"/>
<rect x="434" y="464" width="3" height="1"/>
<rect x="440" y="464" width="3" height="1"/>
<rect x="446" y="464" width="3" height="1"/>
<rect x="452" y="464" width="3" height="1"/>
<rect x="458" y="464" width="3" height="1"/>
<rect x="464" y="464" width="3" height="1"/>
<rect x="470" y="464" width="3" height="1"/>
<rect x="476" y="464" width="3" height="1"/>
<rect x="482" y="464" width="3" height="1"/>
<rect x="488" y="464" width="3" height="1"/>
<rect x="494" y="464" width="3" height="1"/>
<rect x="500" y="464" width="3" height="1"/>
<rect x="506" y="464" width="3" height="1"/>
<rect x="512" y="464" width="3" height="1"/>
<rect x="518" y="464" width="3" height="1"/>
<rect x="524" y="464" width="3" height="1"/>
<rect x="530" y="464" width="3" height="1"/>
<rect x="536" y="464" width="3" height="1"/>
<rect x="542" y="464" width="3" height="1"/>
<rect x="548" y="464" width="3" height="1"/>
<rect x="554" y="464" width="3" height="1"/>
<rect x="560" y="464" width="3" height="1"/>
<rect x="566" y="464" width="3" height="1"/>
<rect x="572" y="464" width="3" height="1"/>
<rect x="578" y="464" width="3" height="1"/>
<rect x="584" y="464" width="3" height="1"/>
<rect x="590" y="464" width="3" height="1"/>
<rect x="596" y="464" width="3" height="1"/>
<rect x="602" y="464" width="3" height="1"/>
<rect x="608" y="464" width="3" height="1"/>
<rect x="614" y="464" width="3" height="1"/>
<rect x="620" y="464" width="3" height="1"/>
<rect x="626" y="464" width="3" height="1"/>
<rect x="632" y="464" width="3" height="1"/>
<rect x="638" y="464" width="3" height="1"/>
<rect x="644" y="464" width="3" height="1"/>
<rect x="650" y="464" width="3" height="1"/>
</g>
<g shape-rendering="crispEdges" fill="#ff00ff"><rect x="293" y="405" width="3" height="1"/><rect x="299" y="406" width="1" height="1"/><rect x="1" y="407" width="3" height="1"/><rect x="289" y="407" width="1" height="1"/><rect x="299" y="407" width="1" height="1"/><rect x="75" y="408" width="1" height="1"/><rect x="79" y="408" width="1" height="1"/><rect x="92" y="408" width="2" height="1"/><rect x="97" y="408" width="2" height="1"/><rect x="289" y="408" width="1" height="1"/><rect x="300" y="408" width="1" height="1"/><rect x="513" y="408" width="1" height="1"/><rect x="73" y="409" width="2" height="1"/><rect x="80" y="409" width="2" height="1"/><rect x="91" y="409" width="1" height="1"/><rect x="99" y="409" width="1" height="1"/><rect x="288" y="409" width="1" height="1"/><rect x="512" y="409" width="1" height="1"/><rect x="514" y="409" width="1" height="1"/><rect x="6" y="410" width="1" height="1"/><rect x="85" y="410" width="3" height="1"/><rect x="6" y="411" width="1" height="1"/><rect x="6" y="412" width="1" height="1"/><rect x="69" y="412" width="1" height="1"/><rect x="102" y="412" width="1" height="1"/><rect x="302" y="412" width="1" height="1"/><rect x="509" y="412" width="1" height="1"/><rect x="630" y="412" width="1" height="1"/><rect x="68" y="413" width="1" height="1"/><rect x="103" y="413" width="1" height="1"/><rect x="286" y="413" width="1" height="1"/><rect x="302" y="413" width="1" height="1"/><rect x="508" y="413" width="1" height="1"/><rect x="518" y="413" width="1" height="1"/><rect x="631" y="413" width="2" height="1"/><rect x="68" y="414" width="1" height="1"/><rect x="103" y="414" width="1" height="1"/><rect x="285" y="414" width="1" height="1"/><rect x="302" y="414" width="1" height="1"/><rect x="508" y="414" width="1" height="1"/><rect x="518" y="414" width="1" height="1"/><rect x="627" y="414" width="1" height="1"/><rect x="285" y="415" width="1" height="1"/><rect x="519" y="415" width="1" height="1"/><rect x="626" y="415" width="1" height="1"/><rect x="8" y="416" width="1" height="1"/><rect x="625" y="416" width="1" height="1"/><rect x="8" y="417" width="1" height="1"/><rect x="635" y="417" width="1" height="1"/><rect x="9" y="418" width="1" height="1"/><rect x="66" y="418" width="1" height="1"/><rect x="105" y="418" width="1" height="1"/><rect x="304" y="418" width="1" height="1"/><rect x="506" y="418" width="1" height="1"/><rect x="635" y="418" width="1" height="1"/><rect x="65" y="419" width="1" height="1"/><rect x="105" y="419" width="1" height="1"/><rect x="284" y="419" width="1" height="1"/><rect x="304" y="419" width="1" height="1"/><rect x="506" y="419" width="1" height="1"/><rect x="522" y="419" width="1" height="1"/><rect x="636" y="419" width="1" height="1"/><rect x="64" y="420" width="1" height="1"/><rect x="106" y="420" width="1" height="1"/><rect x="283" y="420" width="1" height="1"/><rect x="304" y="420" width="1" height="1"/><rect x="506" y="420" width="1" height="1"/><rect x="523" y="420" width="1" height="1"/><rect x="624" y="420" width="1" height="1"/><rect x="283" y="421" width="1" height="1"/><rect x="524" y="421" width="1" height="1"/><rect x="624" y="421" width="1" height="1"/><rect x="10" y="422" width="1" height="1"/><rect x="623" y="422" width="1" height="1"/><rect x="10" y="423" width="1" height="1"/><rect x="638" y="423" width="1" height="1"/><rect x="10" y="424" width="1" height="1"/><rect x="62" y="424" width="1" height="1"/><rect x="107" y="424" width="1" height="1"/><rect x="305" y="424" width="1" height="1"/><rect x="504" y="424" width="1" height="1"/><rect x="638" y="424" width="1" height="1"/><rect x="62" y="425" width="1" height="1"/><rect x="108" y="425" width="1" height="1"/><rect x="281" y="425" width="1" height="1"/><rect x="305" y="425" width="1" height="1"/><rect x="504" y="425" width="1" height="1"/><rect x="526" y="425" width="1" height="1"/><rect x="638" y="425" width="1" height="1"/><rect x="61" y="426" width="1" height="1"/><rect x="108" y="426" width="1" height="1"/><rect x="281" y="426" width="1" height="1"/><rect x="306" y="426" width="1" height="1"/><rect x="393" y="426" width="1" height="1"/><rect x="504" y="426" width="1" height="1"/><rect x="527" y="426" width="1" height="1"/><rect x="622" y="426" width="1" height="1"/><rect x="281" y="427" width="1" height="1"/><rect x="394" y="427" width="1" height="1"/><rect x="527" y="427" width="1" height="1"/><rect x="622" y="427" width="1" height="1"/><rect x="11" y="428" width="1" height="1"/><rect x="394" y="428" width="1" height="1"/><rect x="622" y="428" width="1" height="1"/><rect x="11" y="429" width="1" height="1"/><rect x="213" y="429" width="1" height="1"/><rect x="639" y="429" width="1" height="1"/><rect x="11" y="430" width="1" height="1"/><rect x="59" y="430" width="1" height="1"/><rect x="109" y="430" width="1" height="1"/><rect x="157" y="430" width="2" height="1"/><rect x="161" y="430" width="1" height="1"/><rect x="214" y="430" width="1" height="1"/><rect x="306" y="430" width="1" height="1"/><rect x="331" y="430" width="1" height="1"/><rect x="390" y="430" width="1" height="1"/><rect x="503" y="430" width="1" height="1"/><rect x="640" y="430" width="1" height="1"/><rect x="59" y="431" width="1" height="1"/><rect x="110" y="431" width="1" height="1"/><rect x="156" y="431" width="1" height="1"/><rect x="162" y="431" width="1" height="1"/><rect x="215" y="431" width="1" height="1"/><rect x="280" y="431" width="1" height="1"/><rect x="307" y="431" width="1" height="1"/><rect x="332" y="431" width="2" height="1"/><rect x="390" y="431" width="1" height="1"/><rect x="502" y="431" width="1" height="1"/><rect x="529" y="431" width="1" height="1"/><rect x="640" y="431" width="1" height="1"/><rect x="58" y="432" width="1" height="1"/><rect x="111" y="432" width="1" height="1"/><rect x="162" y="432" width="1" height="1"/><rect x="279" y="432" width="1" height="1"/><rect x="307" y="432" width="1" height="1"/><rect x="328" y="432" width="1" height="1"/><rect x="389" y="432" width="1" height="1"/><rect x="397" y="432" width="1" height="1"/><rect x="502" y="432" width="1" height="1"/><rect x="529" y="432" width="1" height="1"/><rect x="621" y="432" width="1" height="1"/><rect x="211" y="433" width="1" height="1"/><rect x="279" y="433" width="1" height="1"/><rect x="327" y="433" width="1" height="1"/><rect x="397" y="433" width="1" height="1"/><rect x="530" y="433" width="1" height="1"/><rect x="621" y="433" width="1" height="1"/><rect x="12" y="434" width="1" height="1"/><rect x="210" y="434" width="1" height="1"/><rect x="327" y="434" width="1" height="1"/><rect x="398" y="434" width="1" height="1"/><rect x="620" y="434" width="1" height="1"/><rect x="13" y="435" width="1" height="1"/><rect x="141" y="435" width="1" height="1"/><rect x="154" y="435" width="1" height="1"/><rect x="210" y="435" width="1" height="1"/><rect x="218" y="435" width="1" height="1"/><rect x="335" y="435" width="1" height="1"/><rect x="565" y="435" width="1" height="1"/><rect x="641" y="435" width="1" height="1"/><rect x="13" y="436" width="1" height="1"/><rect x="57" y="436" width="1" height="1"/><rect x="113" y="436" width="1" height="1"/><rect x="142" y="436" width="1" height="1"/><rect x="153" y="436" width="1" height="1"/><rect x="164" y="436" width="1" height="1"/><rect x="218" y="436" width="1" height="1"/><rect x="308" y="436" width="1" height="1"/><rect x="335" y="436" width="1" height="1"/><rect x="388" y="436" width="1" height="1"/><rect x="500" y="436" width="1" height="1"/><rect x="565" y="436" width="1" height="1"/><rect x="569" y="436" width="1" height="1"/><rect x="642" y="436" width="1" height="1"/><rect x="56" y="437" width="1" height="1"/><rect x="113" y="437" width="1" height="1"/><rect x="143" y="437" width="1" height="1"/><rect x="152" y="437" width="1" height="1"/><rect x="165" y="437" width="1" height="1"/><rect x="181" y="437" width="1" height="1"/><rect x="218" y="437" width="1" height="1"/><rect x="278" y="437" width="1" height="1"/><rect x="308" y="437" width="1" height="1"/><rect x="336" y="437" width="1" height="1"/><rect x="387" y="437" width="1" height="1"/><rect x="499" y="437" width="1" height="1"/><rect x="532" y="437" width="1" height="1"/><rect x="564" y="437" width="1" height="1"/><rect x="569" y="437" width="1" height="1"/><rect x="642" y="437" width="1" height="1"/><rect x="56" y="438" width="1" height="1"/><rect x="114" y="438" width="1" height="1"/><rect x="165" y="438" width="1" height="1"/><rect x="181" y="438" width="1" height="1"/><rect x="278" y="438" width="1" height="1"/><rect x="308" y="438" width="1" height="1"/><rect x="325" y="438" width="1" height="1"/><rect x="387" y="438" width="1" height="1"/><rect x="399" y="438" width="1" height="1"/><rect x="467" y="438" width="2" height="1"/><rect x="499" y="438" width="1" height="1"/><rect x="533" y="438" width="1" height="1"/><rect x="570" y="438" width="1" height="1"/><rect x="620" y="438" width="1" height="1"/><rect x="137" y="439" width="1" height="1"/><rect x="177" y="439" width="1" height="1"/><rect x="182" y="439" width="1" height="1"/><rect x="207" y="439" width="1" height="1"/><rect x="278" y="439" width="1" height="1"/><rect x="325" y="439" width="1" height="1"/><rect x="369" y="439" width="1" height="1"/><rect x="399" y="439" width="1" height="1"/><rect x="417" y="439" width="1" height="1"/><rect x="466" y="439" width="1" height="1"/><rect x="472" y="439" width="2" height="1"/><rect x="533" y="439" width="1" height="1"/><rect x="619" y="439" width="1" height="1"/><rect x="14" y="440" width="1" height="1"/><rect x="136" y="440" width="1" height="1"/><rect x="146" y="440" width="3" height="1"/><rect x="176" y="440" width="1" height="1"/><rect x="207" y="440" width="1" height="1"/><rect x="324" y="440" width="1" height="1"/><rect x="368" y="440" width="1" height="1"/><rect x="399" y="440" width="1" height="1"/><rect x="416" y="440" width="1" height="1"/><rect x="473" y="440" width="1" height="1"/><rect x="619" y="440" width="1" height="1"/><rect x="14" y="441" width="1" height="1"/><rect x="118" y="441" width="2" height="1"/><rect x="135" y="441" width="1" height="1"/><rect x="176" y="441" width="1" height="1"/><rect x="206" y="441" width="1" height="1"/><rect x="220" y="441" width="1" height="1"/><rect x="338" y="441" width="1" height="1"/><rect x="367" y="441" width="1" height="1"/><rect x="415" y="441" width="1" height="1"/><rect x="495" y="441" width="1" height="1"/><rect x="562" y="441" width="1" height="1"/><rect x="643" y="441" width="1" height="1"/><rect x="14" y="442" width="1" height="1"/><rect x="54" y="442" width="1" height="1"/><rect x="120" y="442" width="1" height="1"/><rect x="167" y="442" width="1" height="1"/><rect x="220" y="442" width="1" height="1"/><rect x="309" y="442" width="1" height="1"/><rect x="338" y="442" width="1" height="1"/><rect x="386" y="442" width="1" height="1"/><rect x="493" y="442" width="2" height="1"/><rect x="562" y="442" width="1" height="1"/><rect x="572" y="442" width="1" height="1"/><rect x="643" y="442" width="1" height="1"/><rect x="53" y="443" width="1" height="1"/><rect x="167" y="443" width="1" height="1"/><rect x="184" y="443" width="1" height="1"/><rect x="220" y="443" width="1" height="1"/><rect x="276" y="443" width="1" height="1"/><rect x="309" y="443" width="1" height="1"/><rect x="338" y="443" width="1" height="1"/><rect x="373" y="443" width="1" height="1"/><rect x="386" y="443" width="1" height="1"/><rect x="421" y="443" width="1" height="1"/><rect x="464" y="443" width="1" height="1"/><rect x="489" y="443" width="1" height="1"/><rect x="534" y="443" width="1" height="1"/><rect x="561" y="443" width="1" height="1"/><rect x="572" y="443" width="1" height="1"/><rect x="643" y="443" width="1" height="1"/><rect x="53" y="444" width="1" height="1"/><rect x="124" y="444" width="1" height="1"/><rect x="168" y="444" width="1" height="1"/><rect x="185" y="444" width="1" height="1"/><rect x="275" y="444" width="1" height="1"/><rect x="310" y="444" width="1" height="1"/><rect x="323" y="444" width="1" height="1"/><rect x="374" y="444" width="1" height="1"/><rect x="385" y="444" width="1" height="1"/><rect x="400" y="444" width="1" height="1"/><rect x="421" y="444" width="1" height="1"/><rect x="464" y="444" width="1" height="1"/><rect x="475" y="444" width="1" height="1"/><rect x="488" y="444" width="1" height="1"/><rect x="535" y="444" width="1" height="1"/><rect x="573" y="444" width="1" height="1"/><rect x="619" y="444" width="1" height="1"/><rect x="37" y="445" width="1" height="1"/><rect x="125" y="445" width="1" height="1"/><rect x="131" y="445" width="1" height="1"/><rect x="172" y="445" width="2" height="1"/><rect x="185" y="445" width="1" height="1"/><rect x="203" y="445" width="1" height="1"/><rect x="275" y="445" width="1" height="1"/><rect x="322" y="445" width="1" height="1"/><rect x="365" y="445" width="1" height="1"/><rect x="374" y="445" width="1" height="1"/><rect x="400" y="445" width="1" height="1"/><rect x="413" y="445" width="1" height="1"/><rect x="422" y="445" width="1" height="1"/><rect x="463" y="445" width="1" height="1"/><rect x="475" y="445" width="1" height="1"/><rect x="488" y="445" width="1" height="1"/><rect x="535" y="445" width="1" height="1"/><rect x="597" y="445" width="1" height="1"/><rect x="618" y="445" width="1" height="1"/><rect x="15" y="446" width="1" height="1"/><rect x="38" y="446" width="1" height="1"/><rect x="126" y="446" width="1" height="1"/><rect x="131" y="446" width="1" height="1"/><rect x="171" y="446" width="1" height="1"/><rect x="202" y="446" width="1" height="1"/><rect x="322" y="446" width="1" height="1"/><rect x="364" y="446" width="1" height="1"/><rect x="401" y="446" width="1" height="1"/><rect x="412" y="446" width="1" height="1"/><rect x="476" y="446" width="1" height="1"/><rect x="596" y="446" width="1" height="1"/><rect x="618" y="446" width="1" height="1"/><rect x="15" y="447" width="1" height="1"/><rect x="33" y="447" width="1" height="1"/><rect x="39" y="447" width="1" height="1"/><rect x="130" y="447" width="1" height="1"/><rect x="201" y="447" width="1" height="1"/><rect x="221" y="447" width="1" height="1"/><rect x="340" y="447" width="1" height="1"/><rect x="364" y="447" width="1" height="1"/><rect x="412" y="447" width="1" height="1"/><rect x="560" y="447" width="1" height="1"/><rect x="595" y="447" width="1" height="1"/><rect x="644" y="447" width="1" height="1"/><rect x="16" y="448" width="1" height="1"/><rect x="32" y="448" width="1" height="1"/><rect x="50" y="448" width="1" height="1"/><rect x="196" y="448" width="2" height="1"/><rect x="222" y="448" width="1" height="1"/><rect x="311" y="448" width="1" height="1"/><rect x="340" y="448" width="1" height="1"/><rect x="383" y="448" width="1" height="1"/><rect x="560" y="448" width="1" height="1"/><rect x="574" y="448" width="1" height="1"/><rect x="645" y="448" width="1" height="1"/><rect x="32" y="449" width="1" height="1"/><rect x="50" y="449" width="1" height="1"/><rect x="189" y="449" width="3" height="1"/><rect x="195" y="449" width="1" height="1"/><rect x="222" y="449" width="1" height="1"/><rect x="273" y="449" width="1" height="1"/><rect x="311" y="449" width="1" height="1"/><rect x="340" y="449" width="1" height="1"/><rect x="377" y="449" width="1" height="1"/><rect x="383" y="449" width="1" height="1"/><rect x="423" y="449" width="1" height="1"/><rect x="462" y="449" width="1" height="1"/><rect x="486" y="449" width="1" height="1"/><rect x="537" y="449" width="1" height="1"/><rect x="559" y="449" width="1" height="1"/><rect x="574" y="449" width="1" height="1"/><rect x="600" y="449" width="1" height="1"/><rect x="645" y="449" width="1" height="1"/><rect x="43" y="450" width="2" height="1"/><rect x="49" y="450" width="1" height="1"/><rect x="273" y="450" width="1" height="1"/><rect x="311" y="450" width="1" height="1"/><rect x="321" y="450" width="1" height="1"/><rect x="378" y="450" width="1" height="1"/><rect x="382" y="450" width="1" height="1"/><rect x="402" y="450" width="1" height="1"/><rect x="423" y="450" width="1" height="1"/><rect x="462" y="450" width="1" height="1"/><rect x="478" y="450" width="1" height="1"/><rect x="484" y="450" width="2" height="1"/><rect x="537" y="450" width="1" height="1"/><rect x="575" y="450" width="1" height="1"/><rect x="601" y="450" width="1" height="1"/><rect x="617" y="450" width="1" height="1"/><rect x="45" y="451" width="1" height="1"/><rect x="272" y="451" width="1" height="1"/><rect x="320" y="451" width="1" height="1"/><rect x="362" y="451" width="1" height="1"/><rect x="379" y="451" width="1" height="1"/><rect x="403" y="451" width="1" height="1"/><rect x="410" y="451" width="1" height="1"/><rect x="424" y="451" width="1" height="1"/><rect x="462" y="451" width="1" height="1"/><rect x="479" y="451" width="2" height="1"/><rect x="538" y="451" width="1" height="1"/><rect x="593" y="451" width="1" height="1"/><rect x="601" y="451" width="1" height="1"/><rect x="617" y="451" width="1" height="1"/><rect x="17" y="452" width="1" height="1"/><rect x="320" y="452" width="1" height="1"/><rect x="361" y="452" width="1" height="1"/><rect x="403" y="452" width="1" height="1"/><rect x="410" y="452" width="1" height="1"/><rect x="592" y="452" width="1" height="1"/><rect x="617" y="452" width="1" height="1"/><rect x="17" y="453" width="1" height="1"/><rect x="29" y="453" width="1" height="1"/><rect x="223" y="453" width="1" height="1"/><rect x="342" y="453" width="1" height="1"/><rect x="361" y="453" width="1" height="1"/><rect x="410" y="453" width="1" height="1"/><rect x="558" y="453" width="1" height="1"/><rect x="591" y="453" width="1" height="1"/><rect x="17" y="454" width="1" height="1"/><rect x="28" y="454" width="1" height="1"/><rect x="223" y="454" width="1" height="1"/><rect x="312" y="454" width="1" height="1"/><rect x="342" y="454" width="1" height="1"/><rect x="558" y="454" width="1" height="1"/><rect x="576" y="454" width="1" height="1"/><rect x="28" y="455" width="1" height="1"/><rect x="223" y="455" width="1" height="1"/><rect x="270" y="455" width="1" height="1"/><rect x="313" y="455" width="1" height="1"/><rect x="342" y="455" width="1" height="1"/><rect x="425" y="455" width="1" height="1"/><rect x="460" y="455" width="1" height="1"/><rect x="540" y="455" width="1" height="1"/><rect x="558" y="455" width="1" height="1"/><rect x="577" y="455" width="1" height="1"/><rect x="603" y="455" width="1" height="1"/><rect x="270" y="456" width="1" height="1"/><rect x="313" y="456" width="1" height="1"/><rect x="318" y="456" width="1" height="1"/><rect x="405" y="456" width="3" height="1"/><rect x="425" y="456" width="1" height="1"/><rect x="459" y="456" width="1" height="1"/><rect x="540" y="456" width="1" height="1"/><rect x="577" y="456" width="1" height="1"/><rect x="604" y="456" width="1" height="1"/><rect x="616" y="456" width="1" height="1"/><rect x="269" y="457" width="1" height="1"/><rect x="317" y="457" width="1" height="1"/><rect x="359" y="457" width="1" height="1"/><rect x="426" y="457" width="1" height="1"/><rect x="459" y="457" width="1" height="1"/><rect x="541" y="457" width="1" height="1"/><rect x="589" y="457" width="1" height="1"/><rect x="604" y="457" width="1" height="1"/><rect x="615" y="457" width="1" height="1"/><rect x="19" y="458" width="1" height="1"/><rect x="317" y="458" width="1" height="1"/><rect x="359" y="458" width="1" height="1"/><rect x="589" y="458" width="1" height="1"/><rect x="615" y="458" width="1" height="1"/><rect x="20" y="459" width="1" height="1"/><rect x="26" y="459" width="1" height="1"/><rect x="225" y="459" width="1" height="1"/><rect x="344" y="459" width="1" height="1"/><rect x="359" y="459" width="1" height="1"/><rect x="556" y="459" width="1" height="1"/><rect x="588" y="459" width="1" height="1"/><rect x="20" y="460" width="1" height="1"/><rect x="24" y="460" width="2" height="1"/><rect x="225" y="460" width="1" height="1"/><rect x="344" y="460" width="1" height="1"/><rect x="555" y="460" width="1" height="1"/><rect x="579" y="460" width="1" height="1"/><rect x="225" y="461" width="1" height="1"/><rect x="267" y="461" width="1" height="1"/><rect x="344" y="461" width="1" height="1"/><rect x="427" y="461" width="1" height="1"/><rect x="457" y="461" width="1" height="1"/><rect x="544" y="461" width="1" height="1"/><rect x="555" y="461" width="1" height="1"/><rect x="580" y="461" width="1" height="1"/><rect x="606" y="461" width="1" height="1"/><rect x="266" y="462" width="1" height="1"/><rect x="428" y="462" width="1" height="1"/><rect x="457" y="462" width="1" height="1"/><rect x="545" y="462" width="1" height="1"/><rect x="580" y="462" width="1" height="1"/><rect x="606" y="462" width="1" height="1"/><rect x="614" y="462" width="1" height="1"/><rect x="266" y="463" width="1" height="1"/><rect x="357" y="463" width="1" height="1"/><rect x="428" y="463" width="1" height="1"/><rect x="456" y="463" width="1" height="1"/><rect x="546" y="463" width="1" height="1"/><rect x="586" y="463" width="1" height="1"/><rect x="607" y="463" width="1" height="1"/><rect x="614" y="463" width="1" height="1"/><rect x="356" y="464" width="1" height="1"/><rect x="552" y="464" width="1" height="1"/><rect x="584" y="464" width="2" height="1"/><rect x="613" y="464" width="1" height="1"/><rect x="227" y="465" width="1" height="1"/><rect x="346" y="465" width="1" height="1"/><rect x="356" y="465" width="1" height="1"/><rect x="550" y="465" width="2" height="1"/><rect x="227" y="466" width="1" height="1"/><rect x="254" y="466" width="1" height="1"/><rect x="347" y="466" width="1" height="1"/><rect x="228" y="467" width="1" height="1"/><rect x="248" y="467" width="3" height="1"/><rect x="255" y="467" width="2" height="1"/><rect x="262" y="467" width="1" height="1"/><rect x="348" y="467" width="1" height="1"/><rect x="430" y="467" width="1" height="1"/><rect x="441" y="467" width="2" height="1"/><rect x="454" y="467" width="1" height="1"/><rect x="609" y="467" width="2" height="1"/><rect x="260" y="468" width="2" height="1"/><rect x="431" y="468" width="1" height="1"/><rect x="443" y="468" width="1" height="1"/><rect x="453" y="468" width="1" height="1"/><rect x="609" y="468" width="1" height="1"/><rect x="351" y="469" width="3" height="1"/><rect x="431" y="469" width="1" height="1"/><rect x="436" y="469" width="2" height="1"/><rect x="447" y="469" width="3" height="1"/><rect x="453" y="469" width="1" height="1"/><rect x="244" y="470" width="1" height="1"/><rect x="435" y="470" width="1" height="1"/><rect x="230" y="471" width="1" height="1"/><rect x="243" y="471" width="1" height="1"/><rect x="231" y="472" width="1" height="1"/><rect x="242" y="472" width="1" height="1"/><rect x="232" y="473" width="1" height="1"/><rect x="236" y="474" width="3" height="1"/></g>
<polyline points="1.5,403.5 5.5,415.5 9.5,439.5 13.5,457.5 17.5,465.7 21.5,462.0 25.5,453.7 29.5,444.7 33.5,444.0 37.5,448.5 41.5,453.0 45.5,453.7 49.5,446.2 53.5,433.5 57.5,426.0 61.5,419.2 65.5,414.0 69.5,405.7 73.5,408.0 77.5,410.0 81.5,410.0 85.5,410.0 89.5,410.0 93.5,406.2 97.5,408.0 101.5,417.5 105.5,430.5 109.5,440.2 113.5,441.7 117.5,442.2 121.5,444.7 125.5,450.0 129.5,450.7 133.5,430.5 137.5,436.5 141.5,440.2 145.5,445.5 149.5,435.7 153.5,427.2 157.5,427.2 161.5,435.0 165.5,453.7 169.5,452.2 173.5,431.2 177.5,435.0 181.5,445.5 185.5,454.8 189.5,449.2 193.5,447.7 197.5,448.8 201.5,446.6 205.5,435.7 209.5,426.7 213.5,426.7 217.5,447.2 221.5,463.3 225.5,473.7 229.5,475.7 233.5,475.2 237.5,473.7 241.5,472.2 245.5,461.8 249.5,467.0 253.5,468.5 257.5,470.5 261.5,466.0 265.5,457.3 269.5,452.8 273.5,439.7 277.5,431.1 281.5,409.5 285.5,407.2 289.5,405.0 293.5,403.8 297.5,405.7 301.5,419.8 305.5,444.5 309.5,463.0 313.5,461.5 317.5,452.5 321.5,435.2 325.5,428.5 329.5,428.5 333.5,437.5 337.5,454.0 341.5,463.0 345.5,473.5 349.5,472.0 353.5,464.5 357.5,454.0 361.5,443.5 365.5,436.7 369.5,439.0 373.5,454.7 377.5,456.2 381.5,448.0 385.5,431.5 389.5,419.5 393.5,430.0 397.5,448.0 401.5,465.2 405.5,456.2 409.5,444.2 413.5,433.7 417.5,441.2 421.5,454.7 425.5,472.0 429.5,473.5 433.5,469.0 437.5,466.7 441.5,467.5 445.5,474.2 449.5,468.2 453.5,465.2 457.5,451.0 461.5,443.5 465.5,428.5 469.5,439.7 473.5,449.5 477.5,459.2 481.5,449.5 485.5,444.2 489.5,436.0 493.5,447.2 497.5,438.2 501.5,421.8 505.5,406.2 509.5,406.2 513.5,413.7 517.5,416.7 521.5,425.0 525.5,427.2 529.5,441.5 533.5,450.5 537.5,458.7 541.5,463.2 545.5,466.2 549.5,467.7 553.5,459.5 557.5,444.5 561.5,429.5 565.5,433.2 569.5,446.0 573.5,458.7 577.5,465.5 581.5,465.8 585.5,461.0 589.5,449.7 593.5,442.2 597.5,445.6 601.5,462.5 605.5,470.0 609.5,472.2 613.5,455.0 617.5,430.2 621.5,410.0 625.5,410.0 629.5,413.7 633.5,419.0 637.5,432.5 641.5,452.0 645.5,464.0" fill="none" stroke="#0000ff" stroke-width="1.85" stroke-linejoin="round" shape-rendering="crispEdges" />
<g shape-rendering="crispEdges" fill="#000">
<rect x="0" y="0" width="656" height="1"/>
<rect x="0" y="0" width="1" height="482"/>
<rect x="655" y="0" width="1" height="306"/>
<rect x="655" y="307" width="1" height="89"/>
<rect x="655" y="397" width="1" height="85"/>
<rect x="0" y="305" width="656" height="1"/>
<rect x="0" y="307" width="656" height="1"/>
<rect x="0" y="395" width="656" height="1"/>
<rect x="0" y="397" width="656" height="1"/>
<rect x="0" y="481" width="656" height="1"/>
<rect x="0" y="306" width="1" height="1" fill="#fff"/>
<rect x="0" y="396" width="1" height="1" fill="#fff"/>
<rect x="656" y="5" width="2" height="1"/>
<rect x="656" y="38" width="2" height="1"/>
<rect x="656" y="71" width="2" height="1"/>
<rect x="656" y="104" width="2" height="1"/>
<rect x="656" y="137" width="2" height="1"/>
<rect x="656" y="170" width="2" height="1"/>
<rect x="656" y="203" width="2" height="1"/>
<rect x="656" y="236" width="2" height="1"/>
<rect x="656" y="269" width="2" height="1"/>
<rect x="656" y="302" width="2" height="1"/>
<rect x="656" y="268" width="1" height="1"/>
<rect x="656" y="309" width="1" height="1"/>
<rect x="656" y="350" width="1" height="1"/>
<rect x="656" y="394" width="1" height="1"/>
<rect x="656" y="399" width="1" height="1"/>
<rect x="656" y="480" width="1" height="1"/>
<rect x="1" y="482" width="1" height="3"/>
<rect x="65" y="482" width="1" height="3"/>
<rect x="129" y="482" width="1" height="3"/>
<rect x="193" y="482" width="1" height="3"/>
<rect x="257" y="482" width="1" height="3"/>
<rect x="321" y="482" width="1" height="3"/>
<rect x="385" y="482" width="1" height="3"/>
<rect x="449" y="482" width="1" height="3"/>
<rect x="513" y="482" width="1" height="3"/>
<rect x="577" y="482" width="1" height="3"/>
<rect x="641" y="482" width="1" height="3"/>
<rect x="657" y="263" width="41" height="11"/>
</g>
<g shape-rendering="crispEdges" fill="#000"><rect x="4" y="7" width="7" height="1"/><rect x="5" y="8" width="5" height="1"/><rect x="6" y="9" width="3" height="1"/><rect x="7" y="10" width="1" height="1"/></g>
<g shape-rendering="crispEdges" fill="#c0c0c0"><rect x="1" y="476" width="1" height="1"/><rect x="1" y="477" width="2" height="1"/><rect x="1" y="478" width="3" height="1"/><rect x="1" y="479" width="4" height="1"/><rect x="1" y="480" width="5" height="1"/></g>
<text transform="translate(16.5 12) scale(1 1.05)" textLength="64.7" lengthAdjust="spacing">USDCAD,Daily</text>
<text transform="translate(661 9) scale(1 1.1)" textLength="33" lengthAdjust="spacing">1.48685</text>
<text transform="translate(661 42) scale(1 1.1)" textLength="33" lengthAdjust="spacing">1.47155</text>
<text transform="translate(661 75) scale(1 1.1)" textLength="33" lengthAdjust="spacing">1.45625</text>
<text transform="translate(661 108) scale(1 1.1)" textLength="33" lengthAdjust="spacing">1.44095</text>
<text transform="translate(661 141) scale(1 1.1)" textLength="33" lengthAdjust="spacing">1.42565</text>
<text transform="translate(661 174) scale(1 1.1)" textLength="33" lengthAdjust="spacing">1.41035</text>
<text transform="translate(661 207) scale(1 1.1)" textLength="33" lengthAdjust="spacing">1.39505</text>
<text transform="translate(661 240) scale(1 1.1)" textLength="33" lengthAdjust="spacing">1.37975</text>
<text transform="translate(661 306) scale(1 1.1)" textLength="33" lengthAdjust="spacing">1.34915</text>
<text transform="translate(661 272) scale(1 1.1)" style="fill:#fff;stroke:#fff" textLength="33" lengthAdjust="spacing">1.36467</text>
<text transform="translate(659 318) scale(1 1.1)" textLength="33" lengthAdjust="spacing">0.02772</text>
<text transform="translate(659 354) scale(1 1.1)" >0.00</text>
<text transform="translate(659 392) scale(1 1.1)" >-0.0298</text>
<text transform="translate(659 408) scale(1 1.1)" >100</text>
<text transform="translate(658 418.6) scale(1 1.1)" >80</text>
<text transform="translate(658 468) scale(1 1.1)" >20</text>
<text transform="translate(658.8 478) scale(1 1.1)" >0</text>
<text transform="translate(4.8 320) scale(1 1.1)" textLength="61.4" lengthAdjust="spacing">MACD(5,34,4)</text>
<text transform="translate(69.1 320) scale(1 1.1)" textLength="40.2" lengthAdjust="spacing">-0.007092</text>
<text transform="translate(113.9 320) scale(1 1.1)" textLength="39.6" lengthAdjust="spacing">-0.005684</text>
<text transform="translate(5.2 410) scale(1 1.1)" textLength="49.8" lengthAdjust="spacing">Stoch(5,3,3)</text>
<text transform="translate(58.2 410) scale(1 1.1)" >20.1291</text>
<text transform="translate(93.6 410) scale(1 1.1)" textLength="33.3" lengthAdjust="spacing">37.6440</text>
<text transform="translate(0.6 494) scale(1 1.1)" style="letter-spacing:0.14px">15 Nov 2024</text>
<text transform="translate(64.8 494) scale(1 1.1)" style="letter-spacing:0px">9 Dec 2024</text>
<text transform="translate(128.9 494) scale(1 1.1)" style="letter-spacing:0px">2 Jan 2025</text>
<text transform="translate(192.4 494) scale(1 1.1)" style="letter-spacing:0px">24 Jan 2025</text>
<text transform="translate(256.4 494) scale(1 1.1)" style="letter-spacing:0.05px">17 Feb 2025</text>
<text transform="translate(320.6 494) scale(1 1.1)" style="letter-spacing:0.08px">10 Mar 2025</text>
<text transform="translate(384.6 494) scale(1 1.1)" style="letter-spacing:0.05px">28 Mar 2025</text>
<text transform="translate(448.6 494) scale(1 1.1)" style="letter-spacing:0.14px">21 Apr 2025</text>
<text transform="translate(513.0 494) scale(1 1.1)" style="letter-spacing:0.14px">13 May 2025</text>
<text transform="translate(576.6 494) scale(1 1.1)" style="letter-spacing:0px">4 Jun 2025</text>
<text transform="translate(640.4 494) scale(1 1.1)" style="letter-spacing:0px">26 Jun 2025</text>
</svg></div></body></html>
